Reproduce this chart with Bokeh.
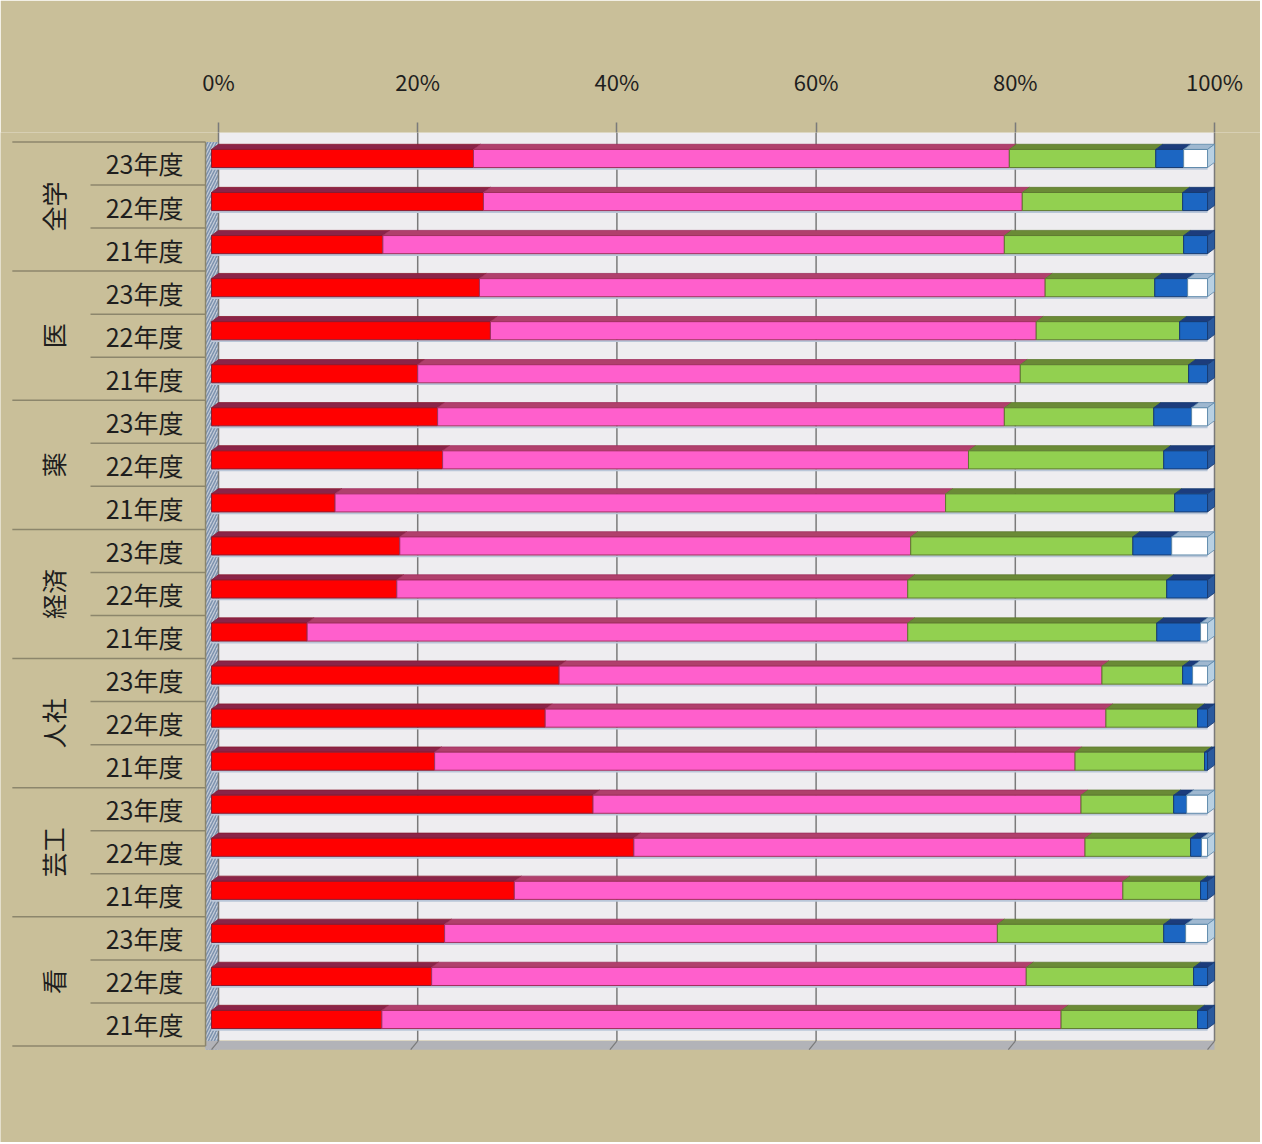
import numpy as np
from bokeh.plotting import figure
from bokeh.models import Range1d, FixedTicker, PrintfTickFormatter
from bokeh.core.properties import value
from bokeh.embed import file_html
from bokeh.resources import INLINE

# ---------------- data ----------------
groups = ["全学", "医", "薬", "経済", "人社", "芸工", "看"]
years = ["23年度", "22年度", "21年度"]
ticks = [0, 20, 40, 60, 80, 100]

# one value per row, rows ordered 全学23, 全学22, 全学21, 医23, ...
red   = [26.3, 27.3, 17.2, 26.9, 28.0, 20.7, 22.7, 23.2, 12.4, 18.9, 18.6, 9.6,
         34.9, 33.5, 22.4, 38.3, 42.4, 30.4, 23.4, 22.1, 17.1]
pink  = [53.8, 54.1, 62.4, 56.8, 54.8, 60.5, 56.9, 52.8, 61.3, 51.3, 51.3, 60.3,
         54.5, 56.3, 64.3, 49.0, 45.3, 61.1, 55.5, 59.7, 68.2]
green = [14.7, 16.1, 18.0, 11.0, 14.4, 16.9, 15.0, 19.6, 23.0, 22.3, 26.0, 25.0,
         8.1, 9.2, 13.0, 9.3, 10.6, 7.8, 16.7, 16.8, 13.7]
blue  = [2.8, 2.5, 2.4, 3.3, 2.8, 1.9, 3.8, 4.4, 3.3, 3.9, 4.1, 4.4,
         1.0, 1.0, 0.3, 1.3, 1.1, 0.7, 2.2, 1.4, 1.0]
white = [2.4, 0.0, 0.0, 2.0, 0.0, 0.0, 1.6, 0.0, 0.0, 3.6, 0.0, 0.7,
         1.5, 0.0, 0.0, 2.1, 0.6, 0.0, 2.2, 0.0, 0.0]

series = [red, pink, green, blue, white]
front_col = ["#FF0000", "#FF5FCC", "#92D050", "#1C66C2", "#FFFFFF"]
top_col   = ["#8A2448", "#B0406C", "#6A8A36", "#1C3C7C", "#9FB8D0"]
edge_col  = ["#8A1A30", "#A0305E", "#5E7A30", "#163A70", "#5C88AA"]
side_col  = ["#B01020", "#C84C90", "#7CA842", "#2A5A9E", "#B8D0E2"]

# ---------------- style constants ----------------
BG = "#C9BF99"
DX = 0.7      # 3D horizontal depth (data units)
DY = 0.12     # 3D vertical depth (row units)
H = 0.42      # front face height (row units)
n = len(red)
rows = np.arange(n)

p = figure(width=1260, height=1142, title=None,
           x_range=Range1d(-21.888, 104.618), y_range=Range1d(22.857, -0.604),
           x_axis_location="above", y_axis_location=None,
           output_backend="svg", toolbar_location=None, min_border=0)
p.min_border_top = 132
p.min_border_left = 0
p.min_border_right = 0
p.min_border_bottom = 0
p.background_fill_color = BG
p.border_fill_color = BG
p.outline_line_color = None
p.xgrid.visible = False
p.ygrid.visible = False

ax = p.xaxis[0]
ax.ticker = FixedTicker(ticks=ticks)
ax.formatter = PrintfTickFormatter(format="%d%%")
ax.axis_line_color = None
ax.major_tick_line_color = "#7A7A7A"
ax.major_tick_line_width = 1.5
ax.major_tick_out = 10
ax.major_tick_in = 0
ax.minor_tick_line_color = None
ax.major_label_standoff = 26
ax.major_label_text_font = "Noto Sans CJK JP"
ax.major_label_text_font_size = "22px"
ax.major_label_text_color = "#1E1E1E"

wall_bottom = n - 0.5
# back wall
p.quad(left=0, right=100, top=-0.604, bottom=wall_bottom - 0.01,
       fill_color="#EEEDF0", line_color=None)
# left side wall (3D)
p.quad(left=-1.3, right=0, top=-0.5 + 0.116, bottom=wall_bottom + 0.2,
       fill_color="#C4CCD8", line_color=None,
       hatch_pattern="right_diagonal_line", hatch_color="#7C92AE",
       hatch_scale=6, hatch_weight=1.5)
# floor
p.quad(left=-1.3, right=100, top=wall_bottom, bottom=wall_bottom + 0.2,
       fill_color="#B2B3B8", line_color=None)

# gridlines on wall
p.segment(x0=ticks, x1=ticks, y0=[-0.604] * len(ticks), y1=[wall_bottom] * len(ticks),
          line_color="#7A7A7A", line_width=1.5)
# small floor diagonals
p.segment(x0=ticks, x1=[t - 0.7 for t in ticks], y0=[wall_bottom] * len(ticks),
          y1=[wall_bottom + 0.2] * len(ticks), line_color="#7A7A7A", line_width=1.2)

# thin shadow lines under bars
p.segment(x0=[-DX] * n, x1=[100 - DX] * n, y0=rows + H / 2 + 0.03, y1=rows + H / 2 + 0.03,
          line_color="#B9C6D8", line_width=2)

# bars
cum = np.zeros(n)
last_idx = [-1] * n
for k, vals in enumerate(series):
    v = np.array(vals)
    left = cum.copy()
    right = cum + v
    m = v > 0
    for i in rows[m]:
        last_idx[i] = k
    # top faces
    xs = [[l - DX, r - DX, r, l] for l, r in zip(left[m], right[m])]
    ys = [[i - H / 2, i - H / 2, i - H / 2 - DY, i - H / 2 - DY] for i in rows[m]]
    p.patches(xs=xs, ys=ys, fill_color=top_col[k], line_color=edge_col[k], line_width=0.8)
    # front faces
    p.quad(left=left[m] - DX, right=right[m] - DX, top=rows[m] - H / 2, bottom=rows[m] + H / 2,
           fill_color=front_col[k], line_color=edge_col[k], line_width=1)
    cum = right

# right side end caps
ends = cum
sxs = [[e - DX, e, e, e - DX] for e in ends]
sys_ = [[i - H / 2, i - H / 2 - DY, i + H / 2 - DY, i + H / 2] for i in rows]
p.patches(xs=sxs, ys=sys_, fill_color=[side_col[k] for k in last_idx],
          line_color=[edge_col[k] for k in last_idx], line_width=0.8)

# ---------------- category labels ----------------
OFF = 0.116
LINE = "#8C866C"
for b in range(n + 1):
    yb = b - 0.5 + OFF
    x0 = -20.7 if b % 3 == 0 else -12.85
    p.segment(x0=[x0], x1=[-1.3], y0=[yb], y1=[yb], line_color=LINE, line_width=1.5)
p.segment(x0=[-1.3], x1=[-1.3], y0=[-0.5 + OFF], y1=[n - 0.5 + OFF], line_color=LINE, line_width=1.5)

year_labels = [years[i % 3] for i in range(n)]
p.text(x=[-7.43] * n, y=list(rows + OFF), text=year_labels,
       text_font=value("Noto Sans CJK JP"), text_font_size="25px",
       text_align="center", text_baseline="middle", text_color="#1E1E1E")
p.text(x=[-16.6] * len(groups), y=[3 * g + 1 + OFF for g in range(len(groups))], text=groups,
       angle=np.pi / 2,
       text_font=value("Noto Sans CJK JP"), text_font_size="25px",
       text_align="center", text_baseline="middle", text_color="#1E1E1E")

open("out.html", "w").write(file_html(p, INLINE))
